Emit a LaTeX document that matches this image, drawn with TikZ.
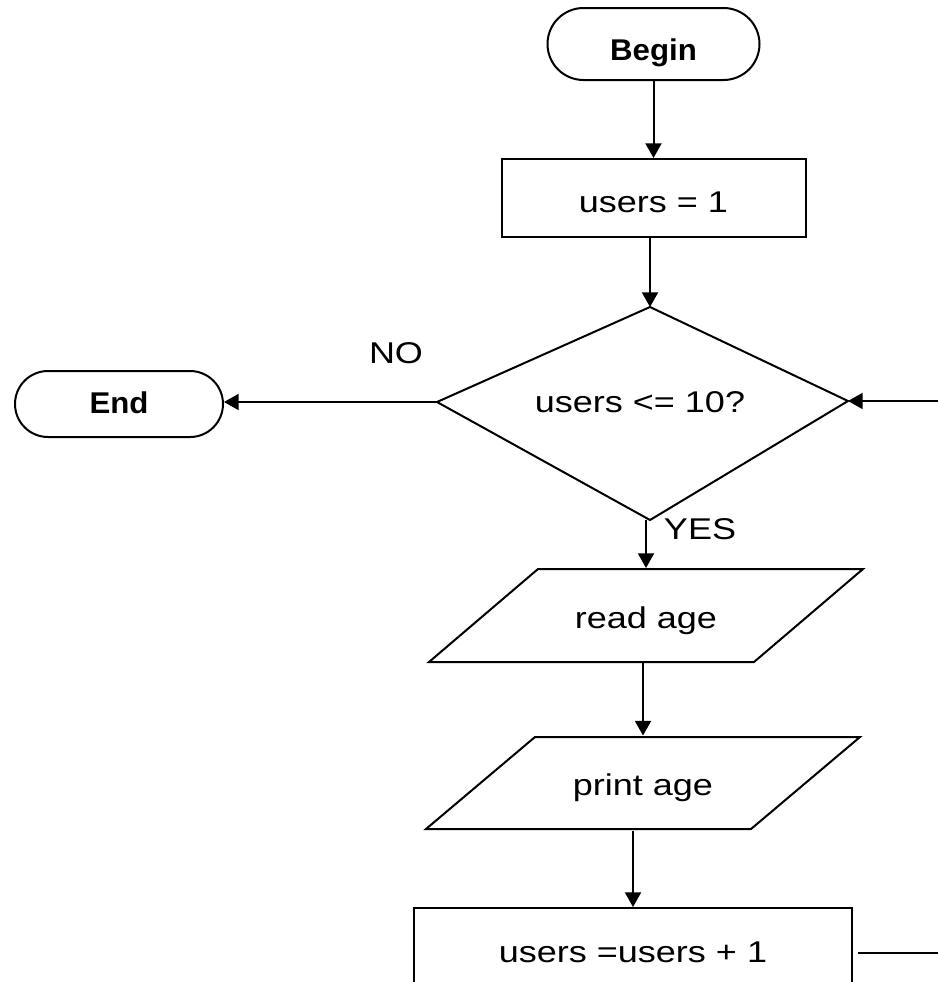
\documentclass[tikz,border=0pt]{standalone}
\usepackage{fontspec}
\setmainfont{Liberation Sans}
\usetikzlibrary{arrows.meta,shapes.misc}
\newcommand\widetxt[1]{\scalebox{1.2}[1]{#1}}
\begin{document}
\begin{tikzpicture}[x=0.75pt,y=-0.75pt,line width=1.5pt,
  txt/.style={font=\fontsize{22.5}{27}\selectfont,text depth=0pt},
  term/.style={draw,rounded rectangle,inner sep=0pt,text depth=0pt,font=\fontsize{22.5}{27}\selectfont\bfseries},
  proc/.style={draw,rectangle,inner sep=0pt,txt},
  io/.style={inner sep=0pt,txt,minimum height=69.75pt},
  lbl/.style={txt,anchor=base,inner sep=0pt},
  arr/.style={-{Triangle[length=11pt,width=12pt]}}]
\useasboundingbox (0,0) rectangle (938,982);
\clip (0,0) rectangle (938,982);
% nodes
\node[term,minimum width=159pt,minimum height=54pt,text height=24pt] (begin) at (653.5,44) {\scalebox{1.04}[1]{Begin}};
\node[proc,minimum width=228pt,minimum height=58.5pt,text height=21pt] (init) at (653.5,198) {\widetxt{users = 1}};
\coordinate (dt) at (650,307);
\coordinate (dl) at (437,402);
\coordinate (dr) at (848,401);
\coordinate (db) at (650,520);
\draw (dt) -- (dr) -- (db) -- (dl) -- cycle;
\node[lbl] (cond) at (640,412) {\widetxt{users <= 10?}};
\node[term,minimum width=156pt,minimum height=49.5pt,text height=13.5pt] (end) at (119,404) {\scalebox{1.04}[1]{End}};
\node[lbl] (no) at (396,363) {\widetxt{NO}};
\node[lbl] (yes) at (700,539) {\widetxt{YES}};
\node[io,text height=18.75pt] (read) at (646,615.5) {\widetxt{read age}};
\draw ([shift={(-108,-46.5)}]read.center) -- ([shift={(217,-46.5)}]read.center)
   -- ([shift={(108,46.5)}]read.center) -- ([shift={(-217,46.5)}]read.center) -- cycle;
\node[io,text height=18pt] (print) at (643,783) {\widetxt{print age}};
\draw ([shift={(-108,-46)}]print.center) -- ([shift={(217,-46)}]print.center)
   -- ([shift={(108,46)}]print.center) -- ([shift={(-217,46)}]print.center) -- cycle;
\node[proc,minimum width=328.5pt,minimum height=66pt,text height=15pt] (inc) at (633,952) {\widetxt{users =users + 1}};
\coordinate (rin) at (938,401);
\coordinate (lout) at (938,953);
% connectors
\draw[arr] (begin.south) -- (init.north);
\draw[arr] (init.south -| dt) -- (dt);
\draw[arr] (dl) -- (dl -| end.east);
\draw[arr] (rin) -- (dr);
\draw[arr] (db -| read.north) -- (read.north);
\draw[arr] (read.south -| print.north) -- (print.north);
\draw[arr] (print.south -| inc.north) -- (inc.north);
\draw ([shift={(5,0)}]inc.east |- lout) -- (lout);
\end{tikzpicture}
\end{document}
